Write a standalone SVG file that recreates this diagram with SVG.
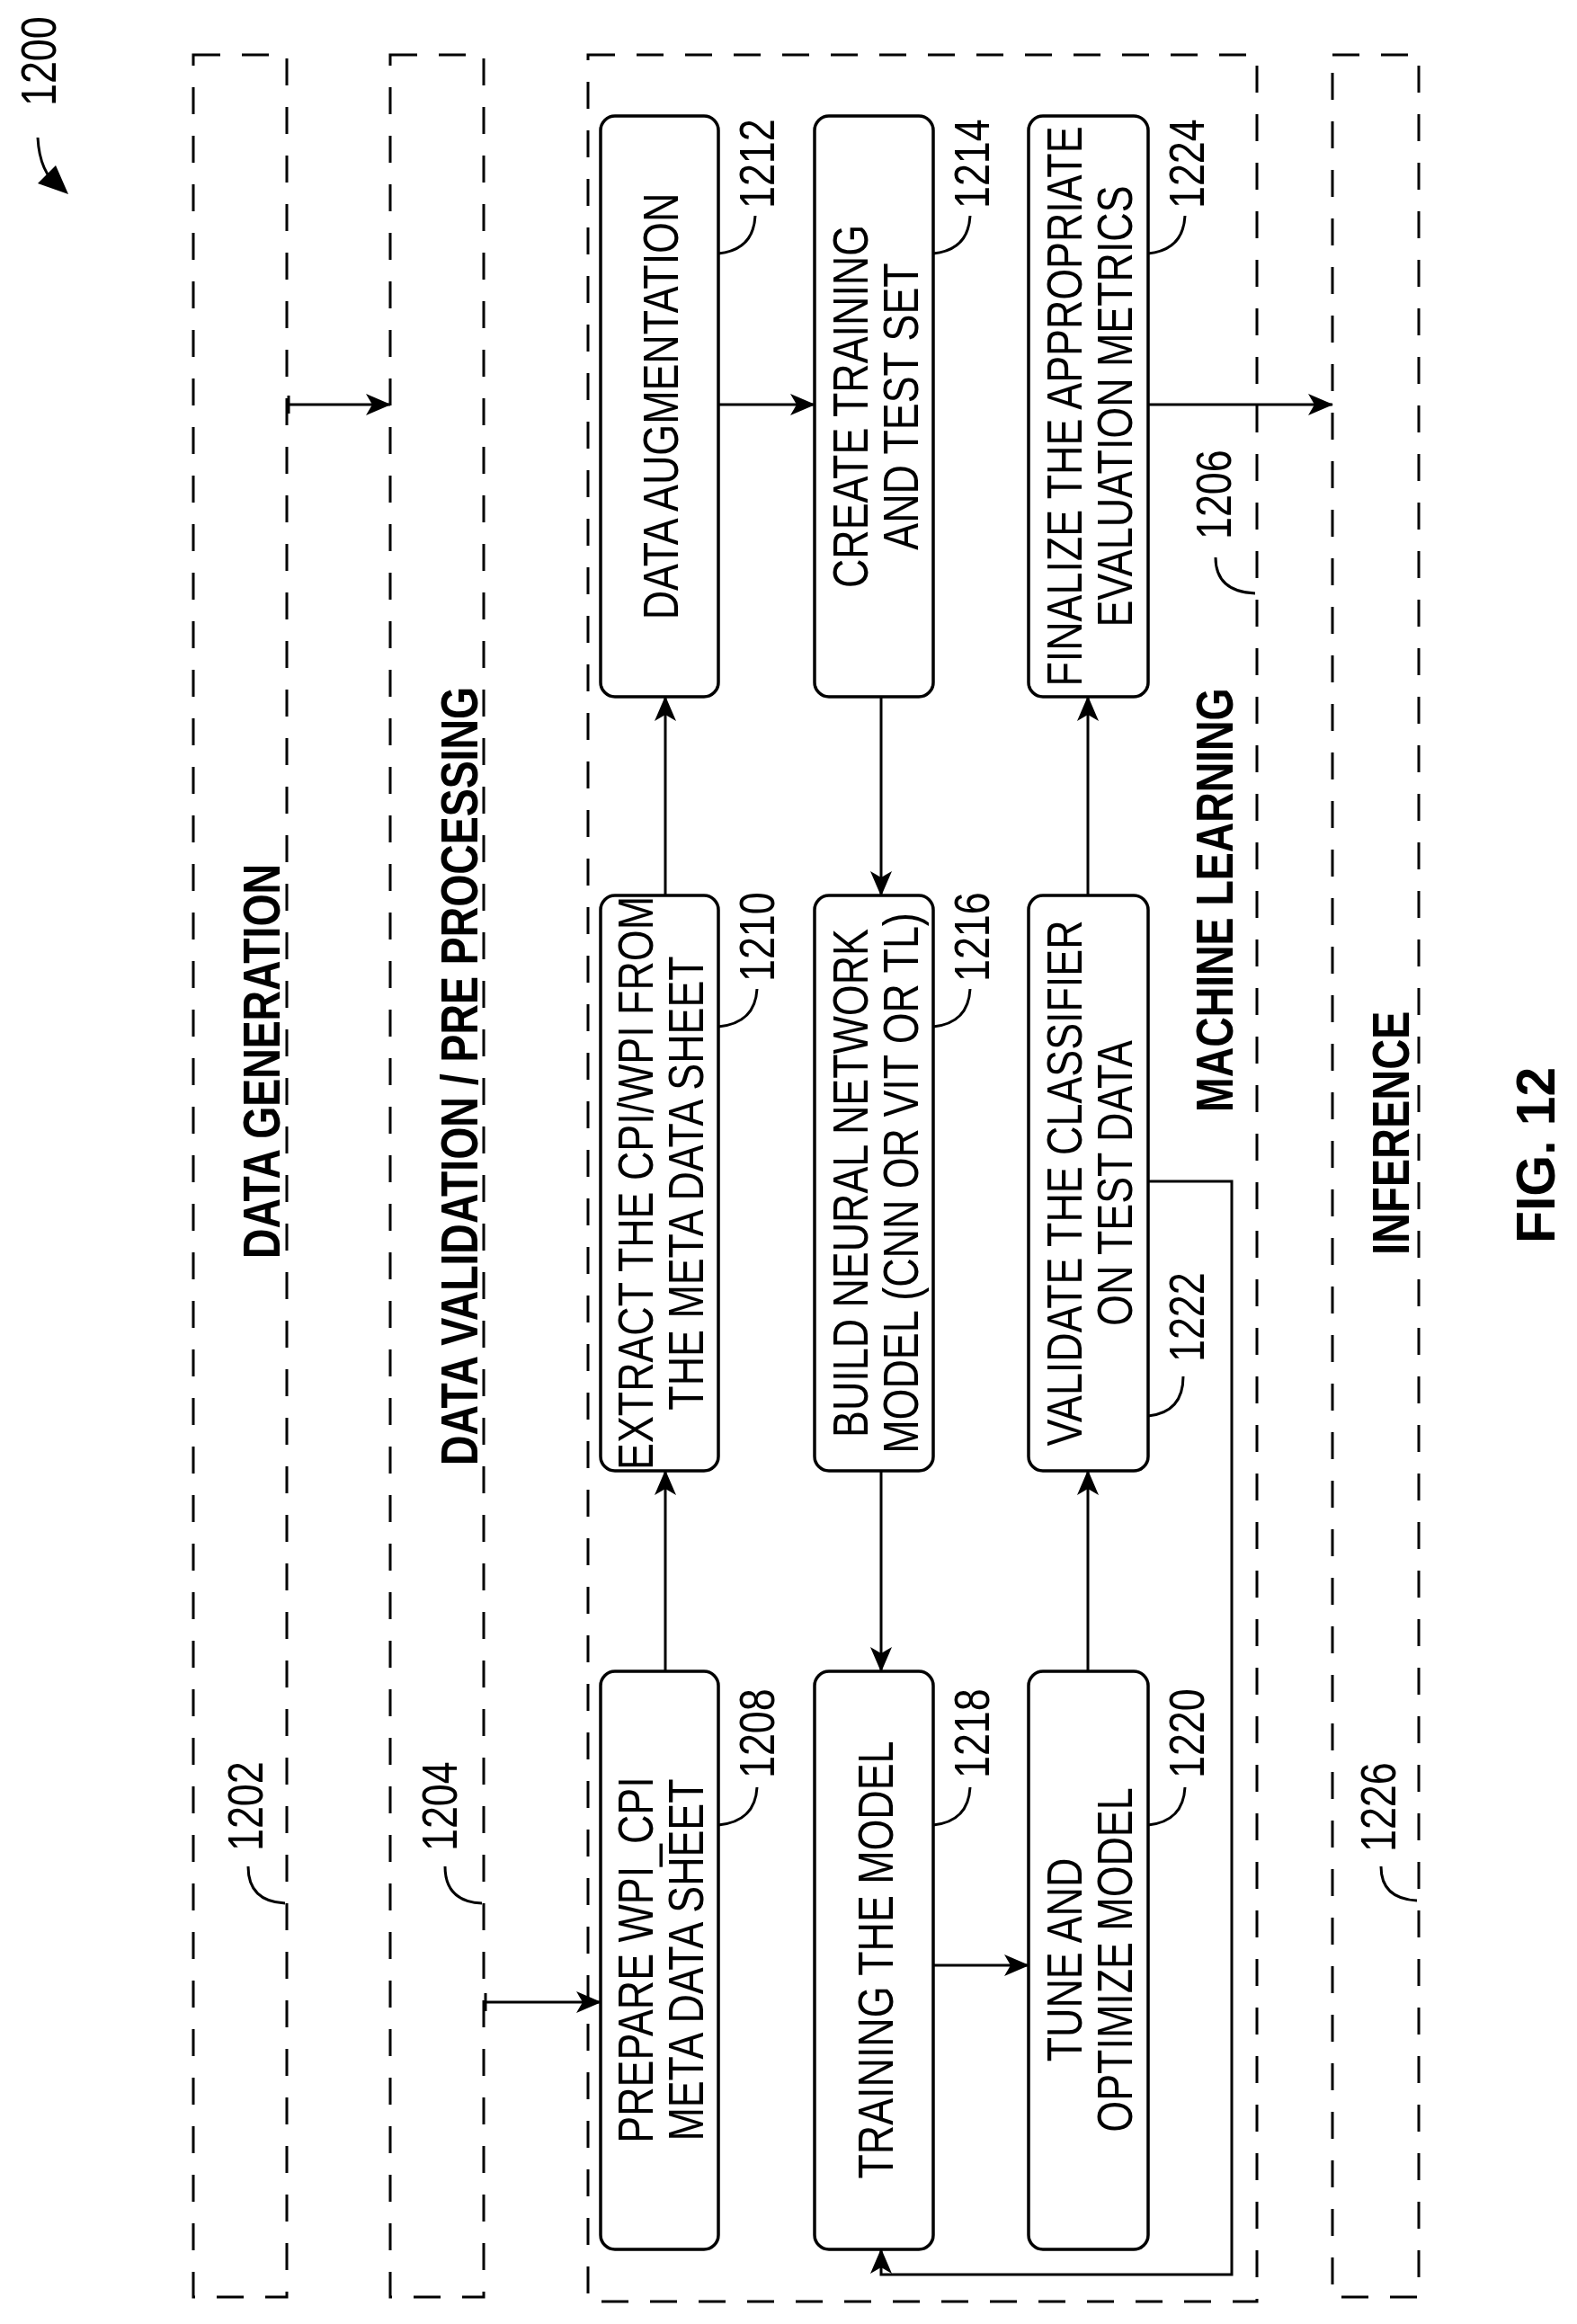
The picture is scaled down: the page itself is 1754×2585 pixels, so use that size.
<svg xmlns="http://www.w3.org/2000/svg" width="1754" height="2585" viewBox="0 0 1754 2585">
<defs>
<marker id="ah" markerUnits="userSpaceOnUse" markerWidth="28" markerHeight="24" refX="27" refY="12" orient="auto">
<path d="M0,0 L28,12 L0,24 L7,12 Z" fill="#000"/>
</marker>
</defs>
<style>
.frame{fill:none;stroke:#000;stroke-width:3;stroke-dasharray:30 24}
.box{fill:#fff;stroke:#000;stroke-width:3.5}
.t{font-family:"Liberation Sans",Arial,sans-serif;font-size:56px;fill:#000}
.b{font-family:"Liberation Sans",Arial,sans-serif;font-size:58px;font-weight:bold;fill:#000}
.m{text-anchor:middle}
.ln{fill:none;stroke:#000;stroke-width:3}
.ld{fill:none;stroke:#000;stroke-width:3}
</style>
<rect width="1754" height="2585" fill="#fff"/>

<g id="fig-label">
<text class="t" transform="translate(62,118) rotate(-90) scale(0.8,1)">1200</text>
<path class="ld" d="M42,153 Q44,192 66,208"/>
<polygon points="76,216 42,204 62,184" fill="#000"/>
<text class="b" transform="translate(1729,1383) rotate(-90) scale(0.95,1)" style="font-size:62px">FIG. 12</text>
</g>

<g id="f1202">
<rect class="frame" x="215" y="61" width="104" height="2494"/>
<text class="b" transform="translate(311,1400) rotate(-90) scale(0.8,1)">DATA GENERATION</text>
<text class="t" transform="translate(292,2059) rotate(-90) scale(0.8,1)">1202</text>
<path class="ld" d="M317,2117 Q276,2115 276,2076"/>
</g>
<g id="f1204">
<rect class="frame" x="434" y="61" width="104" height="2494"/>
<text class="b" transform="translate(531,1630) rotate(-90) scale(0.8,1)">DATA VALIDATION / PRE PROCESSING</text>
<text class="t" transform="translate(508,2059) rotate(-90) scale(0.8,1)">1204</text>
<path class="ld" d="M536,2117 Q495,2115 495,2076"/>
</g>
<g id="f1206">
<rect class="frame" x="654" y="61" width="744" height="2499"/>
<text class="b" transform="translate(1371,1237) rotate(-90) scale(0.8,1)">MACHINE LEARNING</text>
<text class="t" transform="translate(1369,600) rotate(-90) scale(0.8,1)">1206</text>
<path class="ld" d="M1396,660 Q1352,658 1352,620"/>
</g>
<g id="f1226">
<rect class="frame" x="1482" y="61" width="96" height="2494"/>
<text class="b" transform="translate(1567,1396) rotate(-90) scale(0.81,1)">INFERENCE</text>
<text class="t" transform="translate(1552,2060) rotate(-90) scale(0.8,1)">1226</text>
<path class="ld" d="M1576,2114 Q1536,2112 1536,2076"/>
</g>

<g id="n1208">
<rect class="box" x="668" y="1859" width="131" height="643" rx="16"/>
<text class="t m" transform="translate(726,2180) rotate(-90) scale(0.8,1)">PREPARE WPI_CPI</text>
<text class="t m" transform="translate(782,2180) rotate(-90) scale(0.8,1)">META DATA SHEET</text>
<text class="t" transform="translate(861,1978) rotate(-90) scale(0.8,1)">1208</text>
<path class="ld" d="M799,2030 Q840,2026 842,1988"/>
</g>
<g id="n1210">
<rect class="box" x="668" y="996" width="131" height="640" rx="16"/>
<text class="t m" transform="translate(726,1316) rotate(-90) scale(0.8,1)">EXTRACT THE CPI/WPI FROM</text>
<text class="t m" transform="translate(782,1316) rotate(-90) scale(0.8,1)">THE META DATA SHEET</text>
<text class="t" transform="translate(861,1092) rotate(-90) scale(0.8,1)">1210</text>
<path class="ld" d="M799,1142 Q840,1138 842,1100"/>
</g>
<g id="n1212">
<rect class="box" x="668" y="129" width="131" height="646" rx="16"/>
<text class="t m" transform="translate(754,452) rotate(-90) scale(0.8,1)">DATA AUGMENTATION</text>
<text class="t" transform="translate(861,232) rotate(-90) scale(0.8,1)">1212</text>
<path class="ld" d="M799,282 Q838,278 840,240"/>
</g>
<g id="n1214">
<rect class="box" x="906" y="129" width="132" height="646" rx="16"/>
<text class="t m" transform="translate(965,452) rotate(-90) scale(0.8,1)">CREATE TRAINING</text>
<text class="t m" transform="translate(1021,452) rotate(-90) scale(0.8,1)">AND TEST SET</text>
<text class="t" transform="translate(1100,232) rotate(-90) scale(0.8,1)">1214</text>
<path class="ld" d="M1038,282 Q1077,278 1079,240"/>
</g>
<g id="n1216">
<rect class="box" x="906" y="996" width="132" height="640" rx="16"/>
<text class="t m" transform="translate(965,1316) rotate(-90) scale(0.8,1)">BUILD NEURAL NETWORK</text>
<text class="t m" transform="translate(1021,1316) rotate(-90) scale(0.8,1)">MODEL (CNN OR VIT OR TL)</text>
<text class="t" transform="translate(1100,1092) rotate(-90) scale(0.8,1)">1216</text>
<path class="ld" d="M1038,1142 Q1077,1138 1079,1100"/>
</g>
<g id="n1218">
<rect class="box" x="906" y="1859" width="132" height="643" rx="16"/>
<text class="t m" transform="translate(993,2180) rotate(-90) scale(0.8,1)">TRAINING THE MODEL</text>
<text class="t" transform="translate(1100,1978) rotate(-90) scale(0.8,1)">1218</text>
<path class="ld" d="M1038,2030 Q1077,2026 1079,1988"/>
</g>
<g id="n1220">
<rect class="box" x="1144" y="1859" width="133" height="643" rx="16"/>
<text class="t m" transform="translate(1203,2180) rotate(-90) scale(0.8,1)">TUNE AND</text>
<text class="t m" transform="translate(1259,2180) rotate(-90) scale(0.8,1)">OPTIMIZE MODEL</text>
<text class="t" transform="translate(1339,1978) rotate(-90) scale(0.8,1)">1220</text>
<path class="ld" d="M1277,2030 Q1316,2026 1318,1988"/>
</g>
<g id="n1222">
<rect class="box" x="1144" y="996" width="133" height="640" rx="16"/>
<text class="t m" transform="translate(1203,1316) rotate(-90) scale(0.8,1)">VALIDATE THE CLASSIFIER</text>
<text class="t m" transform="translate(1259,1316) rotate(-90) scale(0.8,1)">ON TEST DATA</text>
<text class="t" transform="translate(1339,1515) rotate(-90) scale(0.8,1)">1222</text>
<path class="ld" d="M1277,1575 Q1316,1571 1316,1531"/>
</g>
<g id="n1224">
<rect class="box" x="1144" y="129" width="133" height="646" rx="16"/>
<text class="t m" transform="translate(1203,452) rotate(-90) scale(0.8,1)">FINALIZE THE APPROPRIATE</text>
<text class="t m" transform="translate(1259,452) rotate(-90) scale(0.8,1)">EVALUATION METRICS</text>
<text class="t" transform="translate(1339,232) rotate(-90) scale(0.8,1)">1224</text>
<path class="ld" d="M1277,282 Q1316,278 1318,240"/>
</g>

<g id="connectors">
<line class="ln" x1="321" y1="440" x2="321" y2="460"/>
<line class="ln" x1="321" y1="450" x2="434" y2="450" marker-end="url(#ah)"/>
<line class="ln" x1="540" y1="2217" x2="540" y2="2237"/>
<line class="ln" x1="540" y1="2227" x2="668" y2="2227" marker-end="url(#ah)"/>
<line class="ln" x1="740" y1="1859" x2="740" y2="1636" marker-end="url(#ah)"/>
<line class="ln" x1="740" y1="996" x2="740" y2="775" marker-end="url(#ah)"/>
<line class="ln" x1="799" y1="450" x2="906" y2="450" marker-end="url(#ah)"/>
<line class="ln" x1="980" y1="775" x2="980" y2="996" marker-end="url(#ah)"/>
<line class="ln" x1="980" y1="1636" x2="980" y2="1859" marker-end="url(#ah)"/>
<line class="ln" x1="1038" y1="2186" x2="1144" y2="2186" marker-end="url(#ah)"/>
<line class="ln" x1="1210" y1="1859" x2="1210" y2="1636" marker-end="url(#ah)"/>
<line class="ln" x1="1210" y1="996" x2="1210" y2="775" marker-end="url(#ah)"/>
<line class="ln" x1="1277" y1="450" x2="1482" y2="450" marker-end="url(#ah)"/>
<polyline class="ln" points="1277,1314 1370,1314 1370,2530 980,2530 980,2502" marker-end="url(#ah)"/>
</g>
</svg>
